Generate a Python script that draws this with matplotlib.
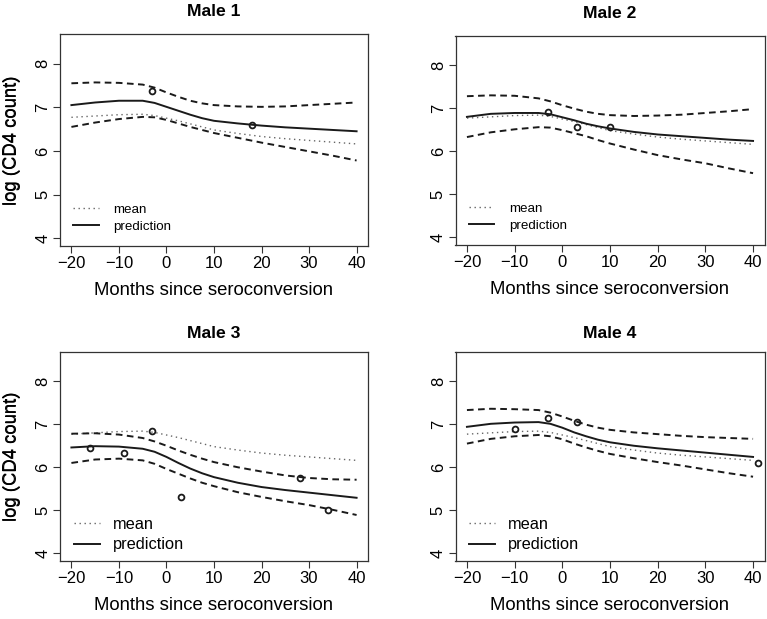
import numpy as np
import matplotlib
matplotlib.use("Agg")
import matplotlib.pyplot as plt

plt.rcParams["font.family"] = ["Liberation Sans", "DejaVu Sans"]
plt.rcParams["lines.scale_dashes"] = False

# ── Data ───────────────────────────────────────────────────────────────────────
months = [-20, -15, -10, -5, -2.5, 0, 2.5, 5, 7.5, 10, 15, 20, 25, 30, 35, 40]

# population mean curve (same in every panel)
mean_curve = [6.77, 6.80, 6.83, 6.84, 6.81, 6.75, 6.69, 6.62, 6.55, 6.48,
              6.40, 6.33, 6.28, 6.24, 6.20, 6.16]

male1_pred  = [7.05, 7.11, 7.15, 7.15, 7.10, 7.01, 6.92, 6.83, 6.75, 6.69,
               6.63, 6.58, 6.54, 6.51, 6.48, 6.45]
male1_upper = [7.55, 7.57, 7.56, 7.52, 7.45, 7.34, 7.24, 7.15, 7.09, 7.05,
               7.02, 7.01, 7.02, 7.05, 7.08, 7.11]
male1_lower = [6.55, 6.65, 6.73, 6.78, 6.77, 6.71, 6.63, 6.55, 6.48, 6.41,
               6.30, 6.19, 6.09, 5.99, 5.89, 5.78]
male1_obs_x = [-3, 18]
male1_obs_y = [7.37, 6.60]

male2_pred  = [6.80, 6.87, 6.89, 6.89, 6.86, 6.79, 6.72, 6.64, 6.58, 6.53,
               6.45, 6.39, 6.35, 6.31, 6.27, 6.24]
male2_upper = [7.28, 7.30, 7.29, 7.23, 7.16, 7.07, 6.99, 6.92, 6.87, 6.84,
               6.82, 6.83, 6.85, 6.89, 6.93, 6.98]
male2_lower = [6.33, 6.44, 6.51, 6.56, 6.55, 6.49, 6.42, 6.35, 6.26, 6.18,
               6.04, 5.91, 5.81, 5.72, 5.60, 5.49]
male2_obs_x = [-3, 3, 10]
male2_obs_y = [6.92, 6.57, 6.56]

male3_pred  = [6.46, 6.49, 6.48, 6.43, 6.36, 6.24, 6.10, 5.97, 5.86, 5.77,
               5.64, 5.54, 5.47, 5.41, 5.35, 5.29]
male3_upper = [6.78, 6.79, 6.76, 6.68, 6.60, 6.50, 6.39, 6.29, 6.20, 6.12,
               6.00, 5.90, 5.81, 5.75, 5.72, 5.71]
male3_lower = [6.10, 6.18, 6.20, 6.16, 6.08, 5.96, 5.85, 5.74, 5.64, 5.56,
               5.42, 5.31, 5.21, 5.12, 5.01, 4.89]
male3_obs_x = [-16, -9, -3, 3, 28, 34]
male3_obs_y = [6.45, 6.33, 6.84, 5.30, 5.75, 5.00]

male4_pred  = [6.94, 7.01, 7.04, 7.05, 7.01, 6.92, 6.81, 6.72, 6.64, 6.58,
               6.50, 6.44, 6.39, 6.34, 6.29, 6.24]
male4_upper = [7.33, 7.36, 7.35, 7.33, 7.27, 7.18, 7.08, 6.99, 6.92, 6.87,
               6.81, 6.77, 6.73, 6.70, 6.68, 6.66]
male4_lower = [6.55, 6.66, 6.72, 6.75, 6.72, 6.65, 6.55, 6.46, 6.38, 6.31,
               6.21, 6.12, 6.04, 5.95, 5.86, 5.78]
male4_obs_x = [-10, -3, 3, 41]
male4_obs_y = [6.89, 7.15, 7.06, 6.11]

panels = [
    ("Male 1", male1_pred, male1_upper, male1_lower, male1_obs_x, male1_obs_y),
    ("Male 2", male2_pred, male2_upper, male2_lower, male2_obs_x, male2_obs_y),
    ("Male 3", male3_pred, male3_upper, male3_lower, male3_obs_x, male3_obs_y),
    ("Male 4", male4_pred, male4_upper, male4_lower, male4_obs_x, male4_obs_y),
]

# ── Layout (pixel boxes of the four plot regions) ─────────────────────────────
W, H = 767, 619
boxes = [(60, 34, 368, 246), (455.5, 36, 764.5, 245),
         (60, 352, 368, 561), (455.5, 352, 764.5, 561)]
# legend font size, handle length, text pad, offset from corner (px)
leg_style = [(9.6, 1.9, 1.1, 8, 8), (9.6, 1.9, 1.1, 8, 8),
             (11.8, 1.6, 0.8, 7, 2), (11.8, 1.6, 0.8, 7, 2)]
title_gap = [22, 22, 18, 18]

fig = plt.figure(figsize=(W / 100, H / 100), dpi=100)
ink = "#1a1a1a"

for (title, pred, up, lo, ox, oy), (x0, y0, x1, y1), ls, tg in zip(
        panels, boxes, leg_style, title_gap):
    bw, bh = x1 - x0, y1 - y0
    ax = fig.add_axes([x0 / W, (H - y1) / H, bw / W, bh / H])
    ax.plot(months, mean_curve, color="#666666", lw=1.0, linestyle=(0, (1, 2.6)),
            label="mean")
    ax.plot(months, pred, color=ink, lw=1.4, label="prediction")
    ax.plot(months, up, color=ink, lw=1.4, linestyle=(0, (4.8, 3.2)))
    ax.plot(months, lo, color=ink, lw=1.4, linestyle=(0, (4.8, 3.2)))
    ax.plot(ox, oy, "o", mfc="none", mec=ink, mew=1.3, ms=4.2)

    ax.set_xlim(-22.4, 42.4)
    ax.set_ylim(3.82, 8.68)
    ax.set_xticks([-20, -10, 0, 10, 20, 30, 40])
    ax.set_yticks([4, 5, 6, 7, 8])
    ax.tick_params(direction="out", length=5, width=0.8, labelsize=12, pad=2,
                   color="#333333")
    for lab in ax.get_yticklabels():
        lab.set_rotation(90)
        lab.set_va("center")
    for sp in ax.spines.values():
        sp.set_linewidth(0.9)
        sp.set_color("#333333")

    ax.set_xlabel("Months since seroconversion", fontsize=13.3, va="center")
    ax.xaxis.set_label_coords(0.5, -44 / bh)
    ax.set_ylabel("log (CD4 count)", fontsize=13.3, va="center")
    ax.yaxis.set_label_coords(-(x0 - 12) / bw, 0.5)

    fig.text((x0 + x1) / 2 / W, 1 - (y0 - tg) / H, title, fontsize=12.6,
             fontweight="bold", ha="center", va="center")

    fs, hl, tp, dx, dy = ls
    ax.legend(loc="lower left", frameon=False, fontsize=fs, handlelength=hl,
              handletextpad=tp, borderaxespad=0, labelspacing=0.35,
              bbox_to_anchor=(dx / bw, dy / bh))

plt.savefig("out.png", dpi=100)
